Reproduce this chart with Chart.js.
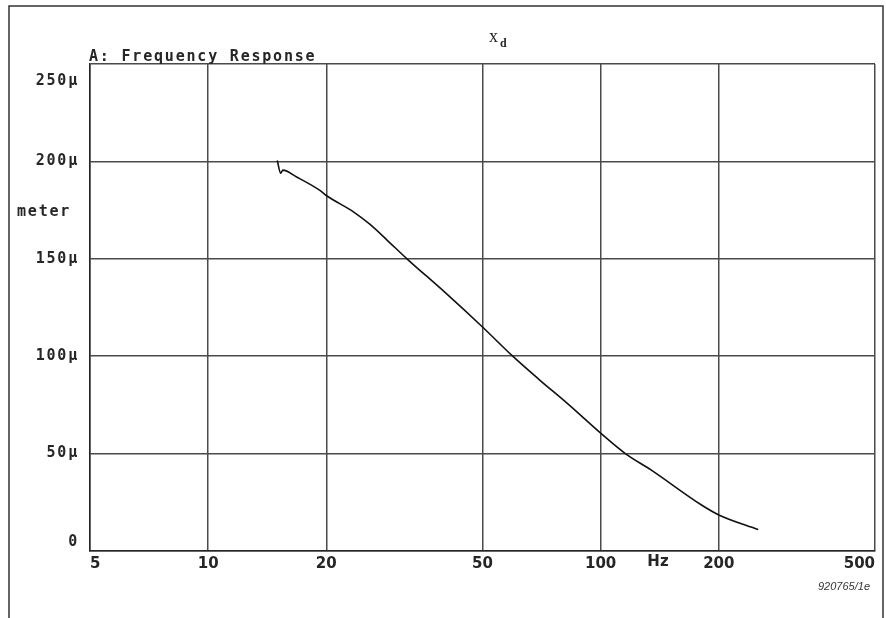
<!DOCTYPE html>
<html>
<head>
<meta charset="utf-8">
<script src="https://cdn.jsdelivr.net/npm/chart.js@4"></script>
<style>
  body { margin: 0; background: #fff; }
  #wrap { width: 886px; height: 618px; }
</style>
</head>
<body>
<div id="wrap"><canvas id="xdChart" width="886" height="618"></canvas></div>
<script>
// Frequency axis ticks (Hz) and excursion axis ticks (micrometre)
const freqTicks = [5, 10, 20, 50, 100, 200, 500];
const excursionTicks = [0, 50, 100, 150, 200, 250];

// Measured cone excursion x_d against frequency
const freqHz = [15.0, 15.3, 15.5, 16.8, 19.3, 20.0, 23.5, 25.9, 28.6, 32.1, 40, 50, 59.7, 69.7, 82.5, 100, 115.6, 134.6, 180.7, 200, 252];
const excursionUm = [200.5, 194, 195.5, 192, 185, 182.5, 174, 167.5, 159.5, 150, 133, 115, 100, 88, 75.5, 60.5, 50, 41.5, 23.6, 18.5, 11];

const ink = '#262626';
const gridInk = '#4a4a4a';
const monoFont = 'bold 15px "DejaVu Sans Mono"';

// frame, y tick labels and the extra annotations
const annotations = {
    id: 'annotations',
    beforeDraw(chart) {
        const c = chart.ctx;
        c.save();
        c.strokeStyle = '#333';
        c.lineWidth = 1.5;
        c.beginPath();
        c.moveTo(9, 618);
        c.lineTo(9, 6);
        c.lineTo(883, 6);
        c.lineTo(883, 618);
        c.stroke();
        c.restore();
    },
    afterDraw(chart) {
        const c = chart.ctx;
        const y = chart.scales.y;
        const x = chart.scales.x;
        c.save();
        c.fillStyle = ink;
        c.textBaseline = 'middle';

        // y tick labels, outer ones pulled inside the plot height
        c.font = monoFont;
        c.letterSpacing = '1.8px';
        c.textAlign = 'right';
        y.ticks.forEach(t => {
            let py = y.getPixelForValue(t.value);
            if (t.value === 250) py += 17;
            if (t.value === 0) py -= 9;
            const txt = t.value === 0 ? '0' : t.value + 'µ';
            c.fillText(txt, 79, py);
        });

        // unit label on the y side
        c.textAlign = 'left';
        c.fillText('meter', 17, 212);

        // chart heading
        c.textBaseline = 'alphabetic';
        c.fillText('A: Frequency Response', 89, 61);
        c.letterSpacing = '0px';

        // quantity symbol x with subscript d
        c.font = '18px "Liberation Serif"';
        c.fillText('x', 489, 42);
        c.font = 'bold 12px "Liberation Serif"';
        c.fillText('d', 500, 47);

        // frequency unit among the x tick labels
        c.font = 'bold 15px "DejaVu Sans"';
        c.textAlign = 'center';
        c.textBaseline = 'middle';
        c.fillText('Hz', x.getPixelForValue(140), 562);

        // drawing number
        c.font = 'italic 11px "Liberation Sans"';
        c.fillStyle = '#333';
        c.textAlign = 'right';
        c.fillText('920765/1e', 870, 587);
        c.restore();
    }
};

const ctx = document.getElementById('xdChart').getContext('2d');
const xdChart = new Chart(ctx, {
    type: 'line',
    data: {
        datasets: [{
            label: 'x_d',
            data: freqHz.map((f, i) => ({ x: f, y: excursionUm[i] })),
            borderColor: '#111',
            borderWidth: 1.6,
            pointRadius: 0,
            cubicInterpolationMode: 'monotone',
            fill: false
        }]
    },
    options: {
        responsive: false,
        animation: false,
        layout: { padding: { top: 64, right: 11, left: 0, bottom: 0 } },
        plugins: {
            legend: { display: false },
            tooltip: { enabled: false }
        },
        scales: {
            x: {
                type: 'logarithmic',
                min: 5,
                max: 500,
                afterBuildTicks: scale => {
                    scale.ticks = freqTicks.map(v => ({ value: v }));
                },
                afterFit: scale => { scale.height = 67; },
                grid: { color: gridInk, lineWidth: 1.5, drawTicks: false },
                border: { color: ink, width: 1.5 },
                ticks: {
                    align: 'inner',
                    padding: 4,
                    maxRotation: 0,
                    autoSkip: false,
                    color: ink,
                    font: { family: 'DejaVu Sans', size: 15, weight: 'bold' },
                    callback: v => String(v)
                }
            },
            y: {
                min: 0,
                max: 250,
                afterBuildTicks: scale => {
                    scale.ticks = excursionTicks.map(v => ({ value: v }));
                },
                afterFit: scale => { scale.width = 90; },
                grid: { color: gridInk, lineWidth: 1.5, drawTicks: false },
                border: { color: ink, width: 1.5 },
                ticks: { display: false }
            }
        }
    },
    plugins: [annotations]
});
</script>
</body>
</html>
